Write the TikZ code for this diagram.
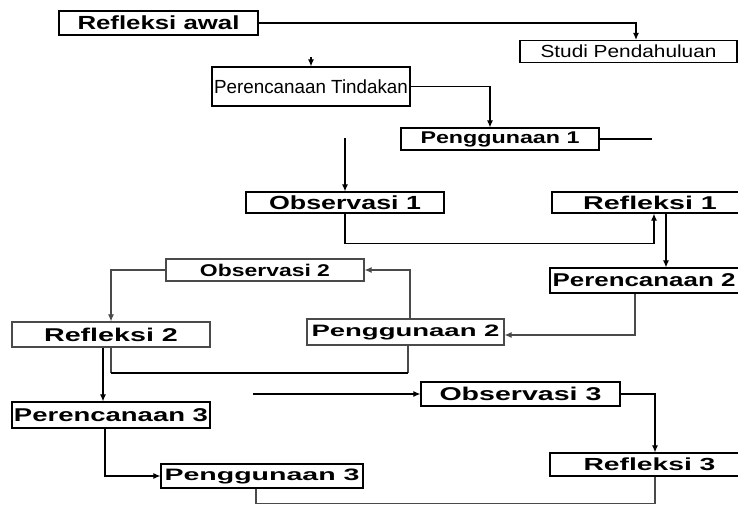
\documentclass[tikz,border=0pt]{standalone}
\usepackage{graphicx}
\usepackage{fontspec}
\setmainfont{Liberation Sans}
\usetikzlibrary{arrows.meta}
\definecolor{lg}{HTML}{4A4A4A}
\newcommand\bt[3]{\scalebox{#1}[1]{\fontsize{#2pt}{#2pt}\selectfont\bfseries #3}}
\newcommand\rt[3]{\scalebox{#1}[1]{\fontsize{#2pt}{#2pt}\selectfont #3}}
\tikzset{
  bx/.style 2 args={draw, line width=1.2pt, inner sep=0pt, rectangle, minimum width=#1pt, minimum height=#2pt},
  gbx/.style 2 args={bx={#1}{#2}, draw=lg},
  arr/.style={-{Latex[length=7pt,width=6pt]}, line width=1.1pt},
  ln/.style={line width=1.1pt},
  gln/.style={line width=1.1pt, draw=lg},
}
\begin{document}
\begin{tikzpicture}[x=1pt,y=-1pt]
\useasboundingbox (0,0) rectangle (738,504);
% boxes
\node[bx={199}{24}]  (ra)  at (158.5,23)   {\bt{1.357}{19}{Refleksi awal}};
\node[bx={217}{22}]  (sp)  at (628.5,51.5) {\rt{1.19}{17.5}{Studi Pendahuluan}};
\node[bx={198}{39}]  (pt)  at (311,86.5)   {\rt{0.99}{19}{Perencanaan Tindakan}};
\node[bx={198}{22}]  (pg1) at (500,139)    {\bt{1.368}{17}{Penggunaan 1}};
\node[bx={198}{21}]  (o1)  at (345,202.5)  {\bt{1.41}{19}{Observasi 1}\hspace{18pt}};
\node[bx={196}{21}]  (r1)  at (650,202.5)  {\bt{1.55}{18.5}{Refleksi 1}};
\node[bx={202}{25}, label={[anchor=west, inner sep=0pt, xshift=3pt]west:\bt{1.40}{18.5}{Perencanaan 2}}] (p2) at (651,280.5) {};
\node[gbx={198}{22}] (o2)  at (265,270)    {\bt{1.349}{17}{Observasi 2}};
\node[gbx={197}{26}] (pg2) at (405.5,332)  {\bt{1.667}{16.5}{Penggunaan 2}};
\node[gbx={198}{25}] (r2)  at (111,334.5)  {\bt{1.55}{18.5}{Refleksi 2}};
\node[bx={198}{26}]  (p3)  at (111,415)    {\bt{1.486}{18.5}{Perencanaan 3}};
\node[bx={199}{24}]  (o3)  at (520.5,394)  {\bt{1.544}{18.5}{Observasi 3}};
\node[bx={199}{23}]  (r3)  at (649.5,464.5){\bt{1.615}{17.5}{Refleksi 3}};
\node[bx={202}{24}]  (pg3) at (262,476)    {\bt{1.729}{16.5}{Penggunaan 3}};
% free ends
\coordinate (f1) at (311,57);
\coordinate (c1) at (652,139);
\coordinate (c2) at (345,138);
\coordinate (c3) at (253,394);
% connectors
\draw[arr] (ra.east) -| ([xshift=7.5pt]sp.north);
\draw[arr] (f1) -- (pt.north);
\draw[arr] (pt.east) -| ([xshift=-10pt]pg1.north);
\draw[ln] (pg1.east) -- (c1);
\draw[arr] (c2) -- (o1.north);
\draw[arr] (o1.south) -- ++(0,30) -| ([xshift=4pt]r1.south);
\draw[arr] ([xshift=16pt]r1.south) -- ([xshift=16pt]r1.south |- p2.north);
\draw[arr, draw=lg] ([xshift=-16pt]p2.south) |- ([yshift=-3pt]pg2.east);
\draw[arr, draw=lg] ([xshift=4.5pt]pg2.north) |- (o2.east);
\draw[arr, draw=lg] (o2.west) -| (r2.north);
\draw[arr] ([xshift=-8pt]r2.south) -- ([xshift=-8pt]p3.north);
\draw[gln] (r2.south) -- ++(0,25) -| ([xshift=2.5pt]pg2.south);
\draw[line width=1.8pt] ([yshift=-25pt]r2.south) -- ([xshift=2.5pt,yshift=-27pt]pg2.south);
\draw[arr] (c3) -- (o3.west);
\draw[arr] (o3.east) -| ([xshift=5.5pt]r3.north);
\draw[arr] ([xshift=-6pt]p3.south) |- (pg3.west);
\draw[gln] ([xshift=-6pt]pg3.south) -- ++(0,15) -| ([xshift=5.5pt]r3.south);
\end{tikzpicture}
\end{document}
